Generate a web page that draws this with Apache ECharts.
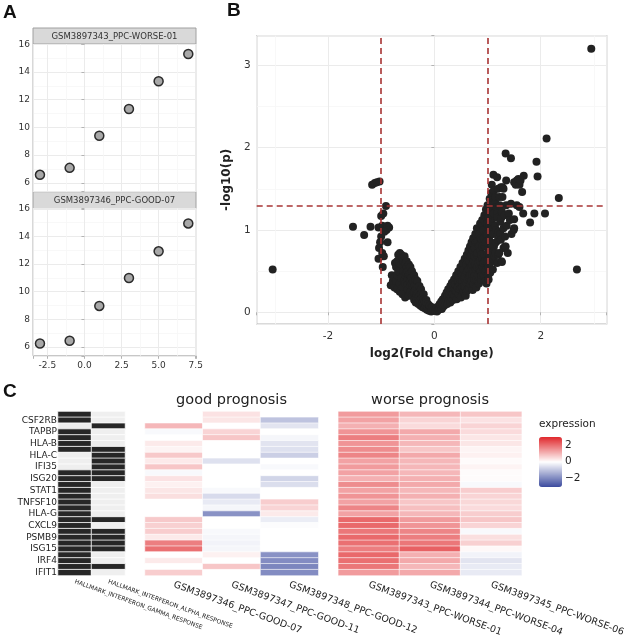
<!DOCTYPE html>
<html><head><meta charset="utf-8">
<script src="https://cdn.jsdelivr.net/npm/echarts@6/dist/echarts.min.js"></script>
<style>html,body{margin:0;padding:0;background:#fff}#c{width:633px;height:643px}</style>
</head><body><div id="c"></div>
<script>
const FONT = 'DejaVu Sans';
// ---------- Panel A ----------
const aFacets = ['GSM3897343_PPC-WORSE-01', 'GSM3897346_PPC-GOOD-07'];
const aX = [-3, -1, 1, 3, 5, 7];
const aWorse01 = [6.58, 7.08, 9.4, 11.33, 13.33, 15.3];
const aGood07 = [6.25, 6.45, 8.97, 10.99, 12.92, 14.94];
// ---------- Panel B ----------
const fcCut = [-1, 1];
const pCut = 1.301;
const volcanoLeft = [
 [-3.04,0.52],[-1.53,1.04],[-1.32,0.94],[-1.2,1.04],[-1.17,1.55],[-1.12,1.57],[-1.08,1.58],[-1.03,1.59],
 [-0.91,1.29],[-0.96,1.2],[-1.0,1.17],[-0.98,1.05],[-1.05,1.03],[-0.88,1.05],[-0.85,1.03],[-0.9,1.0],[-0.94,0.98],
 [-0.88,0.85],[-1.02,0.85],[-1.04,0.78],[-0.98,0.72],[-1.05,0.65],[-0.97,0.55],[-0.95,0.68],[-1.0,0.92],
 [-0.82,0.33],[-0.8,0.45],[-0.78,0.38],[-0.75,0.42],[-0.75,0.3],[-0.74,0.6],[-0.72,0.55],[-0.72,0.38],[-0.7,0.62],[-0.7,0.45],[-0.7,0.28],
 [-0.68,0.7],[-0.68,0.5],[-0.66,0.6],[-0.65,0.72],[-0.65,0.35],[-0.65,0.25],[-0.62,0.7],[-0.62,0.58],[-0.62,0.42],[-0.6,0.66],[-0.6,0.3],[-0.6,0.22],
 [-0.58,0.62],[-0.58,0.5],[-0.57,0.38],[-0.56,0.68],[-0.55,0.6],[-0.55,0.45],[-0.55,0.35],[-0.55,0.18],[-0.53,0.48],[-0.52,0.62],[-0.52,0.55],[-0.5,0.5],[-0.5,0.4],
 [-0.5,0.34],[-0.5,0.28],[-0.48,0.58],[-0.48,0.46],[-0.48,0.2],[-0.46,0.38],[-0.45,0.55],[-0.45,0.45],[-0.45,0.32],[-0.45,0.25],[-0.43,0.42],[-0.42,0.5],[-0.42,0.35],[-0.42,0.2],[-0.4,0.3],
 [-0.4,0.38],[-0.4,0.24],[-0.38,0.45],[-0.38,0.25],[-0.38,0.15],[-0.37,0.33],[-0.35,0.4],[-0.35,0.28],[-0.35,0.12],[-0.34,0.22],[-0.33,0.2],[-0.33,0.16],[-0.32,0.38],[-0.32,0.3],[-0.3,0.24],
 [-0.3,0.18],[-0.3,0.1],[-0.28,0.32],[-0.28,0.2],[-0.27,0.15],[-0.26,0.08],[-0.25,0.28],[-0.25,0.22],[-0.24,0.17],[-0.22,0.12],[-0.22,0.06],[-0.2,0.22],[-0.2,0.16],
 [-0.2,0.1],[-0.18,0.13],[-0.18,0.05],[-0.16,0.08],[-0.15,0.15],[-0.15,0.12],[-0.14,0.03],[-0.13,0.06],[-0.12,0.1],[-0.1,0.05],[-0.1,0.02],
 [-0.09,0.08],[-0.07,0.04],[-0.06,0.01],[-0.05,0.03],[-0.04,0.06],[-0.02,0.02]
];
const volcanoRight = [
 [0.02,0.02],[0.04,0.05],[0.05,0.01],[0.07,0.07],[0.08,0.03],[0.1,0.1],[0.1,0.05],[0.12,0.08],[0.13,0.13],[0.14,0.04],
 [0.15,0.1],[0.16,0.16],[0.17,0.07],[0.18,0.12],[0.2,0.2],[0.2,0.09],[0.22,0.15],[0.23,0.24],[0.24,0.1],[0.25,0.19],
 [0.26,0.28],[0.27,0.14],[0.28,0.22],[0.3,0.32],[0.3,0.12],[0.31,0.26],[0.32,0.18],[0.33,0.36],[0.34,0.23],[0.35,0.15],
 [0.35,0.22],[0.36,0.3],[0.37,0.4],[0.38,0.2],[0.38,0.28],[0.39,0.34],[0.4,0.26],[0.41,0.45],[0.42,0.16],[0.42,0.25],[0.43,0.38],[0.44,0.3],[0.45,0.5],
 [0.45,0.38],[0.46,0.22],[0.47,0.42],[0.48,0.34],[0.48,0.28],[0.49,0.55],[0.5,0.18],[0.5,0.28],[0.5,0.4],[0.51,0.47],[0.52,0.38],[0.52,0.3],[0.53,0.6],[0.53,0.45],[0.54,0.24],
 [0.55,0.52],[0.55,0.25],[0.56,0.32],[0.56,0.42],[0.57,0.65],[0.58,0.44],[0.58,0.3],[0.59,0.2],[0.6,0.58],[0.6,0.36],[0.6,0.48],[0.61,0.7],[0.61,0.26],[0.62,0.5],[0.62,0.4],[0.63,0.28],[0.63,0.62],
 [0.64,0.75],[0.65,0.42],[0.65,0.52],[0.66,0.62],[0.66,0.3],[0.67,0.8],[0.67,0.45],[0.68,0.34],[0.68,0.68],[0.69,0.55],[0.7,0.85],[0.7,0.7],[0.7,0.38],[0.71,0.46],[0.71,0.58],[0.72,0.27],[0.72,0.75],
 [0.73,0.9],[0.73,0.5],[0.74,0.62],[0.74,0.34],[0.75,0.4],[0.75,0.68],[0.76,0.78],[0.76,0.45],[0.77,0.95],[0.77,0.58],[0.78,0.52],[0.78,0.85],[0.79,0.3],[0.79,0.4],[0.8,0.7],[0.8,1.02],[0.8,0.55],[0.81,0.86],[0.81,0.72],
 [0.82,0.45],[0.82,0.95],[0.83,0.6],[0.83,0.38],[0.84,0.35],[0.84,0.8],[0.85,0.95],[0.85,0.52],[0.86,1.08],[0.86,0.75],[0.86,0.62],[0.87,0.5],[0.87,0.9],[0.88,0.4],[0.88,0.7],[0.89,0.88],[0.89,0.45],[0.9,1.12],
 [0.9,0.65],[0.9,0.8],[0.91,0.55],[0.91,1.05],[0.92,1.0],[0.92,0.6],[0.93,0.45],[0.93,0.9],[0.94,1.18],[0.94,0.7],[0.95,0.8],[0.95,0.62],[0.95,1.1],[0.96,0.38],[0.96,0.5],[0.97,1.25],[0.97,0.85],[0.98,0.95],
 [0.98,0.52],[0.98,0.35],[0.98,1.15],[0.99,1.08],[0.99,0.62],[1.0,0.72],[1.0,1.3],[1.0,0.95],[1.01,0.45],[1.01,1.2],[1.02,1.15],[1.02,0.4],[1.02,0.55],[1.03,0.88],[1.03,1.05],[1.04,1.38],[1.04,0.7],
 [1.05,1.0],[1.05,0.6],[1.05,0.48],[1.06,1.25],[1.06,0.85],[1.07,1.45],[1.07,1.3],[1.08,0.78],[1.08,1.1],[1.08,1.55],[1.09,0.95],[1.1,1.33],[1.1,0.52],[1.1,1.18],
 [1.1,0.65],[1.11,0.95],[1.11,1.67],[1.12,1.48],[1.12,1.2],[1.12,0.8],[1.13,0.68],[1.14,1.05],[1.14,1.35],[1.15,1.4],[1.15,0.72],[1.16,0.85],[1.16,1.0],
 [1.17,1.28],[1.18,0.6],[1.18,1.64],[1.18,1.2],[1.19,1.15],[1.2,1.5],[1.2,0.88],[1.2,0.7],[1.21,0.98],[1.22,0.72],[1.22,1.4],[1.23,1.3],[1.24,1.1],[1.24,0.95],
 [1.25,0.88],[1.25,1.52],[1.26,0.62],[1.26,1.15],[1.27,1.22],[1.27,0.61],[1.28,1.4],[1.28,1.52],[1.3,0.78],[1.3,1.02],[1.3,1.5],
 [1.32,1.18],[1.33,0.92],[1.33,0.8],[1.34,0.8],[1.34,1.93],[1.35,1.3],[1.35,1.6],[1.36,1.05],[1.38,0.72],[1.4,1.2],
 [1.42,1.12],[1.44,1.32],[1.44,1.87],[1.45,0.95],[1.49,1.0],[1.5,1.13],[1.5,1.02],[1.5,1.58],[1.53,1.55],[1.55,1.3],
 [1.55,1.6],[1.58,1.62],[1.6,1.28],[1.6,1.55],[1.62,1.6],[1.65,1.46],[1.67,1.2],[1.68,1.66],[1.8,1.09],[1.88,1.2],
 [1.92,1.83],[1.94,1.65],[2.08,1.2],[2.11,2.11],[2.34,1.39],[2.68,0.52],[2.95,3.2]
];
// ---------- Panel C ----------
const geneLabels = ['CSF2RB','TAPBP','HLA-B','HLA-C','IFI35','ISG20','STAT1','TNFSF10','HLA-G','CXCL9','PSMB9','ISG15','IRF4','IFIT1'];
const geneSets = ['HALLMARK_INTERFERON_GAMMA_RESPONSE','HALLMARK_INTERFERON_ALPHA_RESPONSE'];
const goodSamples = ['GSM3897346_PPC-GOOD-07','GSM3897347_PPC-GOOD-11','GSM3897348_PPC-GOOD-12'];
const worseSamples = ['GSM3897343_PPC-WORSE-01','GSM3897344_PPC-WORSE-04','GSM3897345_PPC-WORSE-06'];
const gammaSet = [1,1,0,1,1,1,1,0,0,0,1,1,1,1,1,1,1,1,1,1,1,1,1,1,1,1,1,1];
const alphaSet = [0,0,1,0,0,0,1,1,1,1,1,1,0,0,0,0,0,0,1,0,1,1,1,1,0,0,1,0];
const good07 = [0,0,1.0,-0.1,0,0.3,0.15,0.75,0.3,0.8,-0.1,0.4,0.2,0.35,0.45,0,0,0,0.75,0.65,0.7,0.3,1.8,2.0,0,0.3,0,0.7];
const good11 = [0.4,0.35,0,0.6,0.8,0,0,0,-0.5,0,0,0,0,-0.1,-0.6,-0.35,-0.15,-1.8,0,0,-0.1,-0.15,-0.2,-0.15,0.2,0,0.8,0];
const good12 = [0,-1.0,-0.45,0,-0.15,-0.45,-0.5,-0.8,0,-0.1,0,-0.7,-0.55,0,0,0.7,0.6,0.3,-0.3,-0.05,0,0,0,0,-1.8,-1.9,-2.0,-1.9];
const worse01 = [1.4,1.3,1.1,1.5,1.8,1.5,1.6,1.7,1.3,1.4,1.3,1.1,1.6,1.3,1.5,1.3,1.7,1.3,2.1,2.1,1.9,2.1,2.0,1.8,2.1,2.0,1.9,1.4];
const worse04 = [1.0,0.6,0.5,1.2,1.1,1.0,0.8,1.2,1.0,1.0,1.0,1.1,1.2,1.0,1.1,0.8,0.9,1.0,1.4,1.5,1.7,1.8,1.9,2.2,1.1,1.2,1.0,1.2];
const worse06 = [0.8,0.4,0.6,0.5,0.35,0.35,0.15,0.2,0.05,0.15,0.05,0.05,-0.1,0.7,0.6,0.55,0.5,0.7,0.8,0.6,-0.1,0.45,0.65,0.1,-0.2,-0.45,-0.35,-0.35];
const legendTicks = [2, 0, -2];

// ---------- build ----------
const nRows = gammaSet.length;
const rowNames = [];
for (let i = 0; i < nRows; i++) rowNames.push(i % 2 === 1 ? geneLabels[(i - 1) / 2] : '');
function cells(cols) {
  const out = [];
  cols.forEach((col, c) => col.forEach((v, r) => out.push([c, r, v])));
  return out;
}
function mult(v, step) { return Math.abs(v / step - Math.round(v / step)) < 1e-6; }
const gridLine = { show: true, lineStyle: { color: '#ebebeb', width: 1 } };
const minorLine = { show: true, lineStyle: { color: '#f6f6f6', width: 0.8 } };
const tick = { show: true, length: 3, lineStyle: { color: '#b3b3b3' } };
function valAxis(grid, min, max, step, showLabel, fmt, size, margin) {
  return {
    type: 'value', gridIndex: grid, min, max, minInterval: step, maxInterval: step,
    axisLine: { show: false }, axisTick: showLabel ? tick : { show: false },
    minorTick: { show: false, splitNumber: 2 }, minorSplitLine: minorLine, splitLine: gridLine,
    axisLabel: { show: showLabel, fontFamily: FONT, fontSize: size, color: '#333', margin,
      showMinLabel: true, showMaxLabel: true,
      formatter: v => mult(v, step) ? fmt(Math.round(v / step) * step) : '' }
  };
}
const catX = (grid, data, size, margin) => ({
  type: 'category', gridIndex: grid, data, position: 'bottom',
  axisLine: { show: false }, axisTick: { show: false }, splitLine: { show: false },
  axisLabel: { interval: 0, rotate: -20, fontFamily: FONT, fontSize: size, color: '#222', margin }
});
const catY = (grid, show) => ({
  type: 'category', gridIndex: grid, data: rowNames, inverse: true,
  axisLine: { show: false }, axisTick: { show: false }, splitLine: { show: false },
  axisLabel: { show, interval: 0, fontFamily: FONT, fontSize: 9, color: '#222', margin: 1 }
});
const labelFont = { fontFamily: 'Liberation Sans', fontSize: 19, fontWeight: 'bold', color: '#111' };

const option = {
  backgroundColor: '#fff',
  animation: false,
  title: [
    { text: 'A', left: 3, top: 3, padding: 0, textStyle: labelFont },
    { text: 'B', left: 227, top: 1, padding: 0, textStyle: labelFont },
    { text: 'C', left: 3, top: 382, padding: 0, textStyle: labelFont },
    { text: 'good prognosis', left: 231.5, top: 393, padding: 0, textAlign: 'center',
      textStyle: { fontFamily: FONT, fontSize: 14.5, fontWeight: 'normal', color: '#222' } },
    { text: 'worse prognosis', left: 430, top: 393, padding: 0, textAlign: 'center',
      textStyle: { fontFamily: FONT, fontSize: 14.5, fontWeight: 'normal', color: '#222' } },
    { text: 'expression', left: 539, top: 419, padding: 0,
      textStyle: { fontFamily: FONT, fontSize: 10.5, fontWeight: 'normal', color: '#222' } }
  ],
  grid: [
    { left: 33, top: 44, width: 163, height: 147.7, show: true, borderColor: '#b0b0b0', borderWidth: 1, backgroundColor: 'transparent' },
    { left: 33, top: 208.5, width: 163, height: 147.3, show: true, borderColor: '#b0b0b0', borderWidth: 1, backgroundColor: 'transparent' },
    { left: 256.7, top: 35.7, width: 350, height: 288.3, show: true, borderColor: '#b5b5b5', borderWidth: 1.2, backgroundColor: 'transparent' },
    { left: 58, top: 411.5, width: 67, height: 164 },
    { left: 145, top: 411.5, width: 173.3, height: 164 },
    { left: 338.3, top: 411.5, width: 183.4, height: 164 }
  ],
  xAxis: [
    valAxis(0, -3.47, 7.52, 2.5, false, v => v.toFixed(1), 9, 4),
    valAxis(1, -3.47, 7.52, 2.5, true, v => v.toFixed(1), 9, 5),
    Object.assign(valAxis(2, -3.34, 3.24, 2, true, v => String(v), 10.5, 7), {
      name: 'log2(Fold Change)', nameLocation: 'middle', nameGap: 24,
      nameTextStyle: { fontFamily: FONT, fontSize: 12, fontWeight: 'bold', color: '#222' } }),
    catX(3, geneSets, 6, 6),
    catX(4, goodSamples, 9.5, 9),
    catX(5, worseSamples, 9.5, 9)
  ],
  yAxis: [
    valAxis(0, 5.36, 16.02, 2, true, v => String(v), 9, 3),
    valAxis(1, 5.36, 16.02, 2, true, v => String(v), 9, 3),
    Object.assign(valAxis(2, -0.142, 3.36, 1, true, v => String(v), 10.5, 6), {
      name: '-log10(p)', nameLocation: 'middle', nameGap: 19, nameRotate: 90,
      nameTextStyle: { fontFamily: FONT, fontSize: 12, fontWeight: 'bold', color: '#222' } }),
    catY(3, true),
    catY(4, false),
    catY(5, false)
  ],
  visualMap: [
    { type: 'continuous', seriesIndex: [4, 5], min: -3, max: 3, calculable: false,
      inRange: { color: ['#3b4a9e', '#ffffff', '#e0282c'] },
      left: 539, top: 437, itemWidth: 23, itemHeight: 50, padding: 0, text: null,
      textStyle: { color: 'transparent' }, hoverLink: false },
    { type: 'piecewise', seriesIndex: 3, show: false,
      pieces: [{ value: 0, color: '#efefef' }, { value: 1, color: '#272727' }] }
  ],
  series: [
    { type: 'scatter', xAxisIndex: 0, yAxisIndex: 0, symbolSize: 9,
      itemStyle: { color: '#a8a8a8', borderColor: '#2b2b2b', borderWidth: 1.5, opacity: 1 },
      data: aX.map((x, i) => [x, aWorse01[i]]) },
    { type: 'scatter', xAxisIndex: 1, yAxisIndex: 1, symbolSize: 9,
      itemStyle: { color: '#a8a8a8', borderColor: '#2b2b2b', borderWidth: 1.5, opacity: 1 },
      data: aX.map((x, i) => [x, aGood07[i]]) },
    { type: 'scatter', xAxisIndex: 2, yAxisIndex: 2, symbolSize: 8,
      itemStyle: { color: '#222222', opacity: 1 },
      data: volcanoLeft.concat(volcanoRight),
      markLine: { silent: true, symbol: 'none', animation: false,
        label: { show: false },
        lineStyle: { color: '#a83434', type: [6, 4], width: 1.6 },
        data: [{ xAxis: fcCut[0] }, { xAxis: fcCut[1] }, { yAxis: pCut }] } },
    { type: 'heatmap', xAxisIndex: 3, yAxisIndex: 3, data: cells([gammaSet, alphaSet]),
      itemStyle: { borderColor: '#ffffff', borderWidth: 0.8 } },
    { type: 'heatmap', xAxisIndex: 4, yAxisIndex: 4, data: cells([good07, good11, good12]),
      itemStyle: { borderColor: '#ffffff', borderWidth: 0.6 } },
    { type: 'heatmap', xAxisIndex: 5, yAxisIndex: 5, data: cells([worse01, worse04, worse06]),
      itemStyle: { borderColor: '#ffffff', borderWidth: 0.6 } }
  ],
  graphic: [
    { type: 'rect', shape: { x: 33, y: 28, width: 163, height: 16 }, style: { fill: '#d9d9d9', stroke: '#a0a0a0', lineWidth: 1 } },
    { type: 'text', x: 114.5, y: 36.5, style: { text: aFacets[0], font: '8.5px "DejaVu Sans"', fill: '#333',
      align: 'center', verticalAlign: 'middle', textAlign: 'center', textVerticalAlign: 'middle' } },
    { type: 'rect', shape: { x: 33, y: 191.7, width: 163, height: 16.8 }, style: { fill: '#d9d9d9', stroke: '#a0a0a0', lineWidth: 1 } },
    { type: 'text', x: 114.5, y: 200.3, style: { text: aFacets[1], font: '8.5px "DejaVu Sans"', fill: '#333',
      align: 'center', verticalAlign: 'middle', textAlign: 'center', textVerticalAlign: 'middle' } }
  ].concat(legendTicks.map(t => ({
    type: 'text', x: 565, y: 461.7 - t * 8.15,
    style: { text: t < 0 ? '\u2212' + Math.abs(t) : String(t), font: '10.5px "DejaVu Sans"', fill: '#222',
      align: 'left', verticalAlign: 'middle', textAlign: 'left', textVerticalAlign: 'middle' }
  })))
};
const chart = echarts.init(document.getElementById('c'), null, { renderer: 'canvas' });
chart.setOption(option);
</script>
</body></html>
